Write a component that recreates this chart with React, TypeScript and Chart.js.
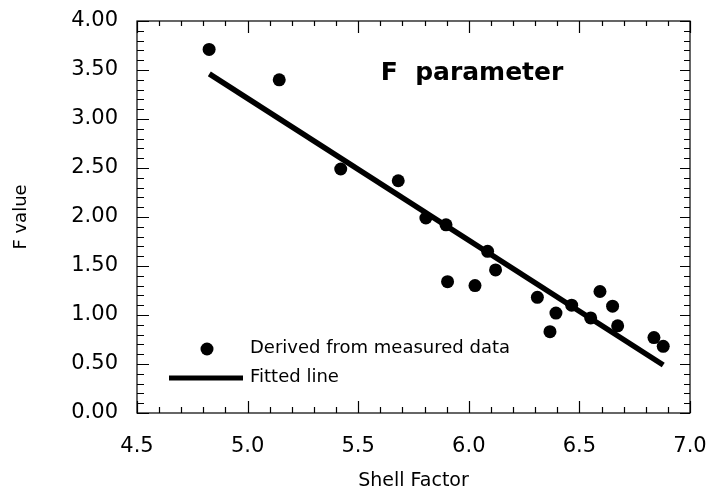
import React, { useEffect, useRef } from 'react';
import { Chart, registerables } from 'chart.js';

Chart.register(...registerables);

// ---- data ----
const shellFactor = [4.826, 5.143, 5.421, 5.681, 5.806, 5.897, 5.904, 6.028, 6.085, 6.121, 6.31, 6.394, 6.367, 6.465, 6.551, 6.593, 6.65, 6.673, 6.837, 6.879];
const fValue = [3.71, 3.40, 2.49, 2.37, 1.99, 1.92, 1.34, 1.30, 1.65, 1.46, 1.18, 1.02, 0.83, 1.10, 0.97, 1.24, 1.09, 0.89, 0.77, 0.68];
const fitX = [4.827, 6.879];
const fitY = [3.46, 0.49];
const xTickValues = [4.5, 5.0, 5.5, 6.0, 6.5, 7.0];
const yTickValues = [0, 0.5, 1.0, 1.5, 2.0, 2.5, 3.0, 3.5, 4.0];
const seriesLabels = ['Derived from measured data', 'Fitted line'];
const chartTitle = 'F  parameter';
const xTitle = 'Shell Factor';
const yTitle = 'F value';

const FONT = "'DejaVu Sans', 'Liberation Sans', Arial, sans-serif";

const framePlugin = {
  id: 'frameAndInwardTicks',
  afterDraw(chart: any) {
    const { ctx, chartArea: a } = chart;
    const xs = chart.scales.x;
    const ys = chart.scales.y;
    ctx.save();
    ctx.strokeStyle = '#000';
    ctx.lineWidth = 1.2;
    ctx.strokeRect(a.left, a.top, a.right - a.left, a.bottom - a.top);
    // minor step 0.1
    const nx = Math.round((xs.max - xs.min) / 0.1);
    for (let i = 0; i <= nx; i++) {
      const v = xs.min + i * 0.1;
      const px = Math.round(xs.getPixelForValue(v)) + 0.5;
      const major = i % 5 === 0;
      const lb = major ? 12 : 6;
      const lt = major ? 12 : 5;
      ctx.beginPath();
      ctx.moveTo(px, a.bottom);
      ctx.lineTo(px, a.bottom - lb);
      ctx.moveTo(px, a.top);
      ctx.lineTo(px, a.top + lt);
      ctx.stroke();
    }
    const ny = Math.round((ys.max - ys.min) / 0.1);
    for (let i = 0; i <= ny; i++) {
      const v = ys.min + i * 0.1;
      const py = Math.round(ys.getPixelForValue(v)) + 0.5;
      const major = i % 5 === 0;
      const ll = major ? 12 : 7;
      const lr = major ? 10 : 6;
      ctx.beginPath();
      ctx.moveTo(a.left, py);
      ctx.lineTo(a.left + ll, py);
      ctx.moveTo(a.right, py);
      ctx.lineTo(a.right - lr, py);
      ctx.stroke();
    }
    // title inside plot
    ctx.fillStyle = '#000';
    ctx.font = `bold 25px ${FONT}`;
    ctx.textAlign = 'center';
    ctx.textBaseline = 'middle';
    ctx.fillText(chartTitle, 472, 73);
    // legend
    ctx.font = `18px ${FONT}`;
    ctx.textAlign = 'left';
    ctx.beginPath();
    ctx.arc(207, 349, 6.5, 0, Math.PI * 2);
    ctx.fill();
    ctx.fillText(seriesLabels[0], 250, 348);
    ctx.lineWidth = 5;
    ctx.beginPath();
    ctx.moveTo(169, 378);
    ctx.lineTo(243, 378);
    ctx.stroke();
    ctx.fillText(seriesLabels[1], 250, 377);
    ctx.restore();
  },
};

export default function App() {
  const ref = useRef<HTMLCanvasElement | null>(null);
  useEffect(() => {
    if (!ref.current) return;
    const chart = new Chart(ref.current, {
      type: 'scatter',
      data: {
        datasets: [
          {
            label: seriesLabels[0],
            data: shellFactor.map((x, i) => ({ x, y: fValue[i] })),
            backgroundColor: '#000',
            borderColor: '#000',
            pointRadius: 6.5,
            pointHoverRadius: 6.5,
            borderWidth: 0,
          },
          {
            label: seriesLabels[1],
            data: fitX.map((x, i) => ({ x, y: fitY[i] })),
            showLine: true,
            borderColor: '#000',
            backgroundColor: '#000',
            borderWidth: 5.5,
            pointRadius: 0,
            borderCapStyle: 'butt',
          } as any,
        ],
      },
      options: {
        animation: false,
        responsive: false,
        maintainAspectRatio: false,
        layout: { padding: { left: 0, right: 21, top: 21, bottom: 0 } },
        plugins: { legend: { display: false }, title: { display: false }, tooltip: { enabled: false } },
        scales: {
          x: {
            type: 'linear',
            min: 4.5,
            max: 7.0,
            afterBuildTicks: (s: any) => { s.ticks = xTickValues.map((v) => ({ value: v })); },
            afterFit: (s: any) => { s.height = 81; s.paddingLeft = 0; s.paddingRight = 0; },
            grid: { display: false, drawTicks: false, tickLength: 0 },
            border: { display: false },
            ticks: {
              color: '#000',
              font: { family: FONT, size: 21 },
              padding: 21,
              maxRotation: 0,
              callback: (v: any) => Number(v).toFixed(1),
            },
            title: {
              display: true,
              text: xTitle,
              color: '#000',
              font: { family: FONT, size: 19 },
              padding: { top: 0, bottom: 2 },
            },
          },
          y: {
            type: 'linear',
            min: 0,
            max: 4,
            afterBuildTicks: (s: any) => { s.ticks = yTickValues.map((v) => ({ value: v })); },
            afterFit: (s: any) => { s.width = 137; s.paddingTop = 0; s.paddingBottom = 0; },
            grid: { display: false, drawTicks: false, tickLength: 0 },
            border: { display: false },
            ticks: {
              color: '#000',
              font: { family: FONT, size: 21 },
              padding: 19,
              callback: (v: any) => Number(v).toFixed(2),
            },
            title: {
              display: true,
              text: yTitle,
              color: '#000',
              font: { family: FONT, size: 18 },
              padding: { top: 11, bottom: 0 },
            },
          },
        },
      },
      plugins: [framePlugin],
    });
    return () => chart.destroy();
  }, []);
  return (
    <div style={{ position: 'fixed', left: 0, top: 0, width: 711, height: 494, background: '#fff' }}>
      <canvas ref={ref} width={711} height={494} style={{ display: 'block' }} />
    </div>
  );
}
